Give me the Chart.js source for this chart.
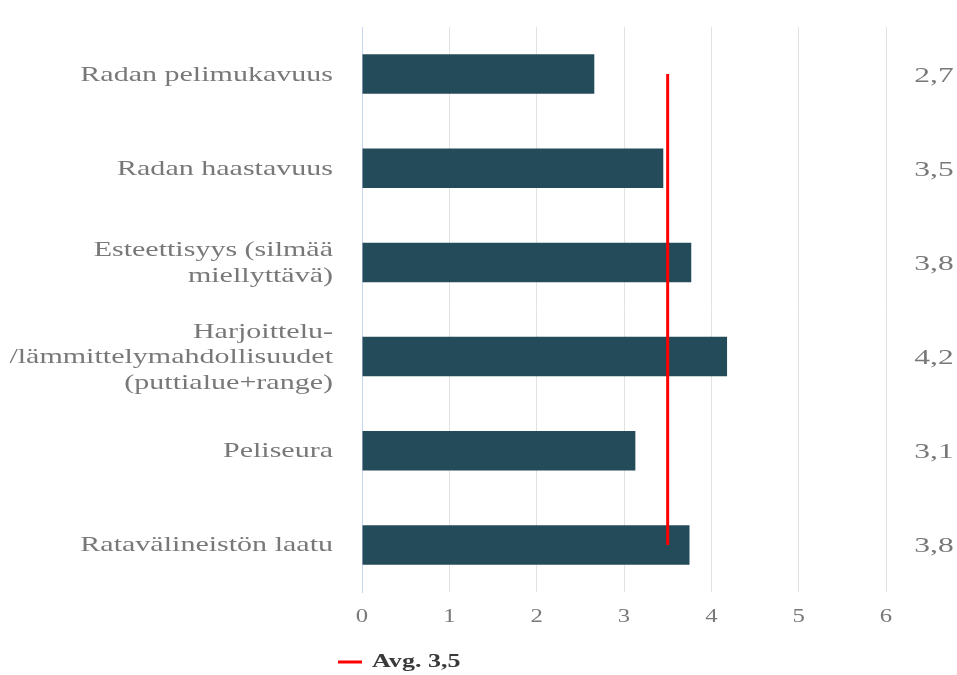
<!DOCTYPE html>
<html>
<head>
<meta charset="utf-8">
<script src="https://cdn.jsdelivr.net/npm/chart.js@4/dist/chart.umd.min.js"></script>
<style>
html,body{margin:0;padding:0;background:#fff;}
#wrap{width:957px;height:675px;position:relative;}
</style>
</head>
<body>
<div id="wrap"><canvas id="c" width="957" height="675"></canvas></div>
<script>
const categories = [
  'Radan pelimukavuus',
  'Radan haastavuus',
  ['Esteettisyys (silmää', 'miellyttävä)'],
  ['Harjoittelu-', '/lämmittelymahdollisuudet', '(puttialue+range)'],
  'Peliseura',
  'Ratavälineistön laatu'
];
const barValues = [2.66, 3.45, 3.77, 4.18, 3.13, 3.75];
const valueLabels = ['2,7', '3,5', '3,8', '4,2', '3,1', '3,8'];
const avgValue = 3.5;
const avgLabel = 'Avg. 3,5';
const avgValues = categories.map(() => avgValue);
const xTicks = [0, 1, 2, 3, 4, 5, 6];

const SERIF = "'Liberation Serif', 'Times New Roman', serif";
const TEXT_GRAY = '#787878';

function stretchText(ctx, text, x, y, align, sx) {
  ctx.save();
  ctx.translate(x, y);
  ctx.scale(sx, 1);
  ctx.textAlign = align;
  ctx.fillText(text, 0, 0);
  ctx.restore();
}

const textPlugin = {
  id: 'stretchedText',
  afterDatasetsDraw(chart) {
    const ctx = chart.ctx;
    const ys = chart.scales.y;
    const xs = chart.scales.x;
    ctx.save();
    ctx.textBaseline = 'middle';
    ctx.fillStyle = TEXT_GRAY;
    // category labels
    ctx.font = "21px " + SERIF;
    const lineH = 25.5;
    chart.data.labels.forEach((lab, i) => {
      const lines = Array.isArray(lab) ? lab : [lab];
      const cy = ys.getPixelForValue(i) + 1;
      const y0 = cy - (lines.length - 1) * lineH / 2;
      lines.forEach((ln, k) => stretchText(ctx, ln, 333, y0 + k * lineH, 'right', 1.43));
    });
    // value labels
    ctx.font = "21px " + SERIF;
    valueLabels.forEach((t, i) => {
      stretchText(ctx, t, 934, ys.getPixelForValue(i) + 2, 'center', 1.5);
    });
    // x tick labels
    ctx.font = "19px " + SERIF;
    xTicks.forEach(v => {
      stretchText(ctx, String(v), xs.getPixelForValue(v), 617, 'center', 1.3);
    });
    ctx.restore();
  },
  afterDraw(chart) {
    const ctx = chart.ctx;
    const ds = chart.data.datasets[0];
    ctx.save();
    ctx.strokeStyle = ds.borderColor;
    ctx.lineWidth = 3;
    ctx.beginPath();
    ctx.moveTo(338, 662);
    ctx.lineTo(362, 662);
    ctx.stroke();
    ctx.font = "bold 19px " + SERIF;
    ctx.fillStyle = '#3a3a3a';
    ctx.textBaseline = 'middle';
    stretchText(ctx, ds.label, 372, 662, 'left', 1.37);
    ctx.restore();
  }
};

new Chart(document.getElementById('c'), {
  data: {
    labels: categories,
    datasets: [
      {
        type: 'line',
        label: avgLabel,
        data: avgValues,
        borderColor: '#ff0000',
        borderWidth: 3,
        pointRadius: 0,
        fill: false,
        order: 0
      },
      {
        type: 'bar',
        label: 'Arvio',
        data: barValues,
        backgroundColor: '#244b5a',
        borderWidth: 0,
        barPercentage: 0.42,
        categoryPercentage: 1,
        order: 1
      }
    ]
  },
  options: {
    indexAxis: 'y',
    responsive: false,
    animation: false,
    layout: { padding: { top: 27, right: 71, left: 0, bottom: 0 } },
    plugins: {
      legend: { display: false },
      tooltip: { enabled: false }
    },
    scales: {
      x: {
        min: 0,
        max: 6,
        afterBuildTicks(scale) { scale.ticks = xTicks.map(v => ({ value: v })); },
        afterFit(scale) { scale.height = 83; },
        grid: { color: '#e2e2e2', lineWidth: 1, drawTicks: false },
        border: { display: false },
        ticks: { display: false }
      },
      y: {
        afterFit(scale) { scale.width = 362; },
        grid: { display: false, drawTicks: false },
        border: { display: true, color: '#c8d5ee', width: 1 },
        ticks: { display: false }
      }
    }
  },
  plugins: [textPlugin]
});
</script>
</body>
</html>
